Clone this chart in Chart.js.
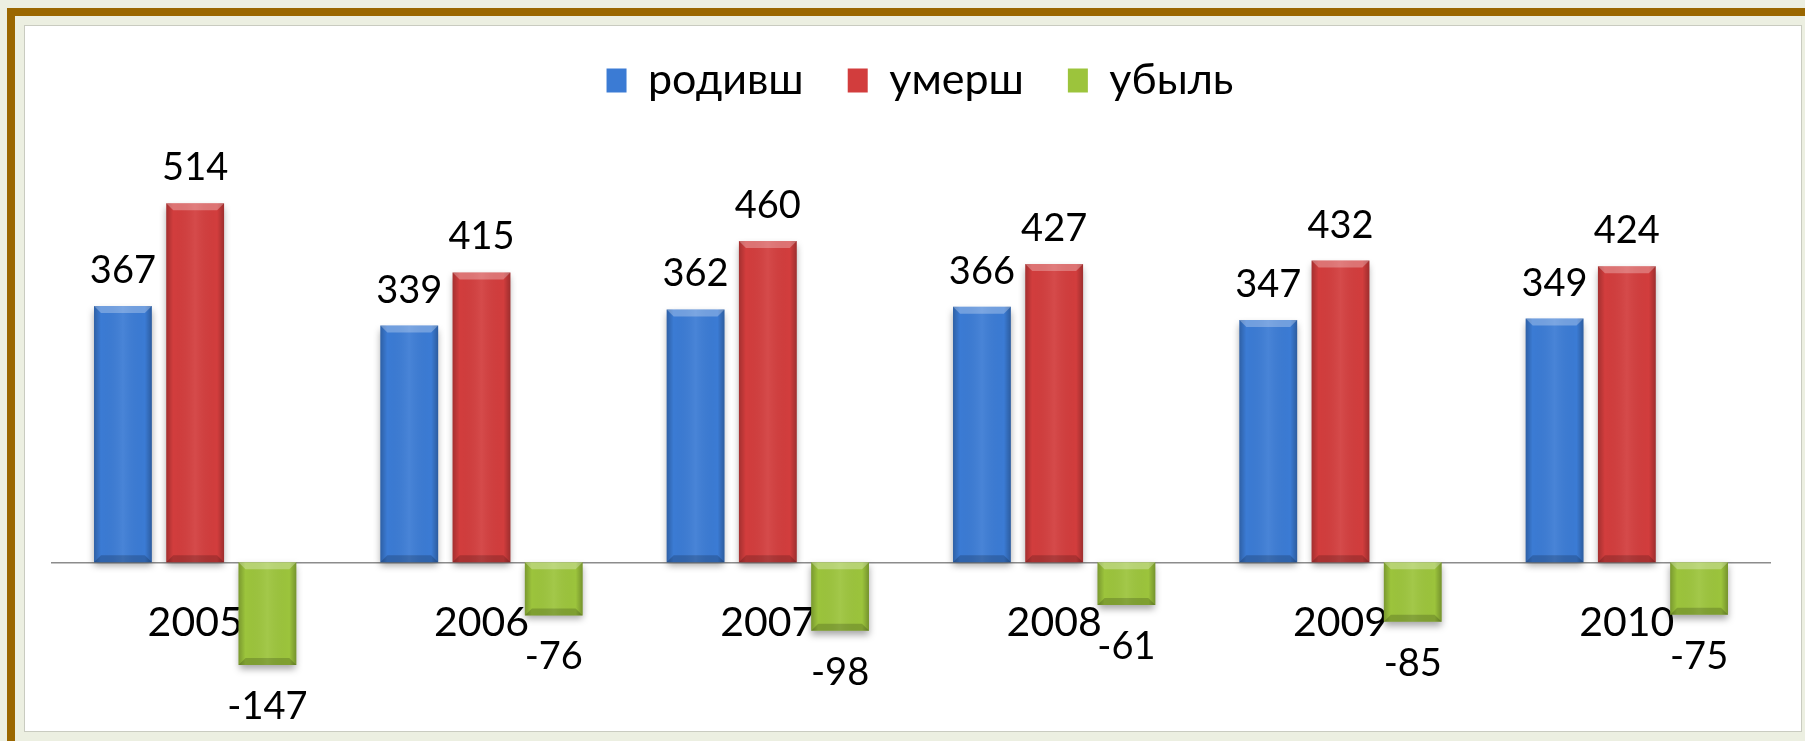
<!DOCTYPE html>
<html>
<head>
<meta charset="utf-8">
<title>родивш / умерш / убыль</title>
<script src="https://cdn.jsdelivr.net/npm/chart.js@4/dist/chart.umd.min.js"></script>
<style>
    html, body {
        margin: 0;
        padding: 0;
        width: 1805px;
        height: 741px;
        overflow: hidden;
        background: #ecefe1;
    }
    .frame {
        position: absolute;
        left: 7px;
        top: 8px;
        width: 1900px;
        height: 900px;
        border-left: 8px solid #9a6700;
        border-top: 8px solid #9a6700;
    }
    .panel {
        position: absolute;
        left: 24px;
        top: 25px;
        width: 1776px;
        height: 705px;
        background: #ffffff;
        border: 1px solid #c9cbc0;
    }
    #chart {
        position: absolute;
        left: 0;
        top: 0;
    }
</style>
</head>
<body>
<div class="frame"></div>
<div class="panel">
    <canvas id="chart" width="1775" height="704"></canvas>
</div>
<script>
const years = ["2005", "2006", "2007", "2008", "2009", "2010"];
const seriesNames = ["родивш", "умерш", "убыль"];
const born = [367, 339, 362, 366, 347, 349];
const died = [514, 415, 460, 427, 432, 424];
const loss = [-147, -76, -98, -61, -85, -75];

const seriesColors = ["#3b7bd4", "#d23d3d", "#9cc43c"];

// soft drop shadow under the bars, then bevel + value labels on top
const barEffects = {
    id: "barEffects",
    beforeDatasetsDraw: function (chart) {
        const ctx = chart.ctx;
        ctx.save();
        ctx.shadowColor = "rgba(0, 0, 0, 0.35)";
        ctx.shadowBlur = 7;
        ctx.shadowOffsetY = 4;
    },
    afterDatasetsDraw: function (chart) {
        const ctx = chart.ctx;
        ctx.restore();

        chart.data.datasets.forEach(function (ds, i) {
            chart.getDatasetMeta(i).data.forEach(function (bar) {
                const half = bar.width / 2;
                const left = bar.x - half;
                const right = bar.x + half;
                const top = Math.min(bar.y, bar.base);
                const bottom = Math.max(bar.y, bar.base);
                const b = 7;

                const grad = ctx.createLinearGradient(left, 0, right, 0);
                grad.addColorStop(0, "rgba(0,0,0,0.22)");
                grad.addColorStop(0.12, "rgba(0,0,0,0)");
                grad.addColorStop(0.5, "rgba(255,255,255,0.07)");
                grad.addColorStop(0.88, "rgba(0,0,0,0)");
                grad.addColorStop(1, "rgba(0,0,0,0.25)");
                ctx.fillStyle = grad;
                ctx.fillRect(left, top, bar.width, bottom - top);

                // light top face
                ctx.fillStyle = "rgba(255,255,255,0.28)";
                ctx.beginPath();
                ctx.moveTo(left, top);
                ctx.lineTo(right, top);
                ctx.lineTo(right - b, top + b);
                ctx.lineTo(left + b, top + b);
                ctx.closePath();
                ctx.fill();

                // darker bottom face
                ctx.fillStyle = "rgba(0,0,0,0.18)";
                ctx.beginPath();
                ctx.moveTo(left, bottom);
                ctx.lineTo(right, bottom);
                ctx.lineTo(right - b, bottom - b);
                ctx.lineTo(left + b, bottom - b);
                ctx.closePath();
                ctx.fill();
            });
        });

        ctx.save();
        ctx.font = "38px Lato";
        ctx.fillStyle = "#000";
        ctx.textAlign = "center";
        ctx.textBaseline = "alphabetic";
        chart.data.datasets.forEach(function (ds, i) {
            chart.getDatasetMeta(i).data.forEach(function (bar, j) {
                const v = ds.data[j];
                if (v >= 0) {
                    ctx.fillText(String(v), bar.x, bar.y - 23);
                } else {
                    ctx.fillText(String(v), bar.x, bar.y + 54);
                }
            });
        });
        ctx.restore();
    }
};

// wide legend spacing, but keep the row up near the top like the original
const legendShift = {
    id: "legendShift",
    afterLayout: function (chart) {
        chart.legend.left += 9;
        chart.legend.right += 9;
        chart.legend.top -= 11;
        chart.legend.bottom -= 11;
    }
};

const ctx = document.getElementById("chart").getContext("2d");
new Chart(ctx, {
    type: "bar",
    data: {
        labels: years,
        datasets: [
            { label: seriesNames[0], data: born, backgroundColor: seriesColors[0] },
            { label: seriesNames[1], data: died, backgroundColor: seriesColors[1] },
            { label: seriesNames[2], data: loss, backgroundColor: seriesColors[2] }
        ]
    },
    options: {
        responsive: false,
        animation: false,
        categoryPercentage: 0.757,
        barPercentage: 0.8,
        layout: {
            padding: { left: 27, right: 30, top: 0, bottom: 28 }
        },
        scales: {
            x: {
                position: { y: 0 },
                grid: { display: false, drawTicks: false },
                border: { display: true, color: "#8c8c8c", width: 1.5 },
                ticks: {
                    color: "#000",
                    font: { family: "Lato", size: 41 },
                    padding: 36,
                    maxRotation: 0
                }
            },
            y: {
                display: false,
                min: -200,
                max: 629
            }
        },
        plugins: {
            legend: {
                position: "top",
                labels: {
                    color: "#000",
                    font: { family: "Lato", size: 43 },
                    boxWidth: 20,
                    boxHeight: 24,
                    padding: 44
                }
            },
            tooltip: { enabled: false }
        }
    },
    plugins: [barEffects, legendShift]
});
</script>
</body>
</html>
